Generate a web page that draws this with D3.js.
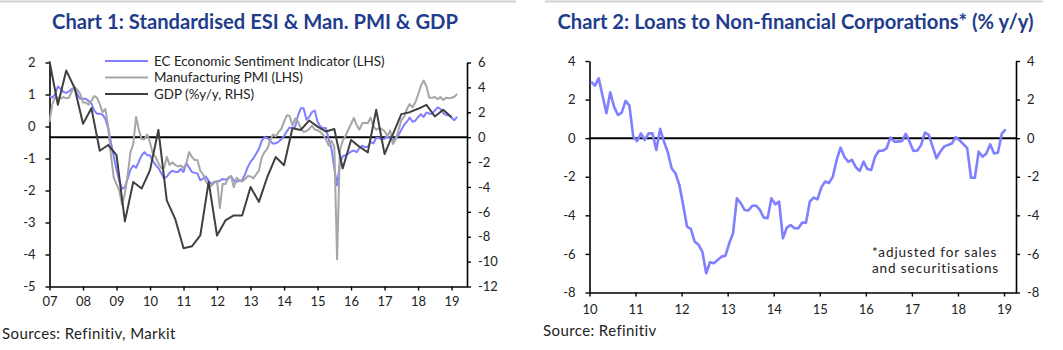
<!DOCTYPE html>
<html>
<head>
<meta charset="utf-8">
<title>Greece: ESI, PMI, GDP and loans</title>
<script src="https://cdn.jsdelivr.net/npm/d3@7"></script>
<style>
  body { margin: 0; background: #fff; }
  svg text { font-family: Lato, "Open Sans", sans-serif; fill: #222; }
  .title { font-weight: bold; fill: #1f3d8c; }
  .axis path, .axis line { stroke: #000; }
  .axis text { font-size: 13px; fill: #222; }
</style>
</head>
<body>
<script>
// ---- data ----
// chart 1: monthly from Jan 2007 (LHS, standardised)
var esi = [0.95,0.9,1.0,1.25,1.18,1.08,1.05,1.1,1.17,1.22,
  1.0,0.87,0.87,0.87,0.8,0.72,0.5,0.4,0.4,0.37,
  0.24,-0.05,-0.5,-0.93,-1.35,-1.7,-1.95,-1.9,-1.63,-1.35,
  -1.22,-1.29,-1.1,-0.9,-0.8,-0.9,-0.9,-1.07,-1.2,-1.3,
  -1.45,-1.62,-1.57,-1.45,-1.38,-1.42,-1.42,-1.33,-1.42,-1.15,
  -1.28,-1.42,-1.45,-1.47,-1.68,-1.63,-1.56,-1.7,-1.8,-1.73,
  -1.73,-1.69,-1.64,-1.66,-1.62,-1.56,-1.68,-1.73,-1.69,-1.68,
  -1.5,-1.27,-1.1,-1.0,-0.85,-0.7,
  -0.45,-0.34,-0.36,-0.45,-0.53,-0.53,-0.48,-0.4,-0.3,-0.15,
  -0.03,-0.05,-0.01,0.35,0.57,0.57,0.22,0.3,0.45,0.5,
  0.15,0.0,-0.05,-0.05,-0.4,-0.7,-1.3,-1.84,-1.15,-0.93,
  -0.9,-0.85,-0.78,-0.75,-0.8,-0.67,-0.6,-0.65,-0.63,-0.49,
  -0.53,-0.36,-0.36,-0.4,-0.38,-0.3,-0.38,-0.42,-0.36,-0.27,
  -0.1,0.05,0.15,0.28,0.15,0.18,0.3,0.38,0.3,0.44,
  0.4,0.4,0.5,0.6,0.55,0.42,0.36,0.35,0.27,0.2,
  0.3];
var pmi = [0.14,0.7,0.9,0.9,0.88,0.92,0.88,0.9,1.1,1.22,
  1.15,1.02,0.75,0.75,0.68,0.8,0.95,0.9,0.7,0.45,
  0.55,0.0,-0.9,-1.6,-1.8,-2.0,-2.45,-2.1,-1.5,-0.8,
  -0.55,0.3,-0.1,-0.4,-0.4,-0.25,-0.5,-0.85,-0.95,-1.15,
  -1.3,-1.3,-0.95,-1.2,-1.12,-1.2,-1.25,-1.22,-1.3,-1.15,
  -0.8,-0.95,-1.05,-1.05,-1.38,-1.5,-1.7,-1.85,-1.85,-1.76,
  -1.7,-2.55,-1.8,-1.8,-1.6,-1.55,-1.9,-1.6,-1.68,-1.72,
  -1.65,-1.55,-1.56,-1.62,-1.5,-1.37,
  -0.97,-0.8,-0.7,-0.45,-0.25,-0.31,-0.17,-0.08,0.15,0.35,
  0.33,0.03,0.25,0.15,-0.05,-0.17,-0.14,-0.08,0.03,-0.1,
  -0.12,-0.17,-0.26,-0.4,-0.6,-0.45,-0.64,-4.15,-0.74,-0.45,
  -0.3,-0.1,0.08,0.27,0.05,-0.1,0.1,0.12,0.1,0.28,
  0.0,-0.1,-0.05,-0.08,-0.15,-0.3,-0.12,-0.55,-0.4,-0.1,
  0.2,0.3,0.55,0.7,0.6,0.75,1.0,1.27,1.44,1.25,
  0.9,0.9,0.92,0.85,0.92,0.83,0.9,0.88,0.9,0.93,
  1.02];
// GDP %y/y, quarterly from 2007.0 (RHS)
var gdp = [6.1,2.6,5.35,3.95,1.07,2.33,-1.09,-0.63,-1.44,-6.77,
  -3.6,-4.13,-2.65,0.58,-5.08,-6.56,-8.93,-8.77,-7.9,-3.6,
  -7.9,-6.69,-6.29,-6.29,-4.0,-5.2,-3.2,-1.6,-2.25,0.72,
  0.58,1.34,0.85,0.45,0.66,-2.52,-0.23,-0.77,-1.22,2.2,
  -1.36,0.25,1.85,2.01,2.28,2.6,1.66,2.2,1.6];
// chart 2: loans to NFCs % y/y, monthly from Jan 2010
var loans = [2.93,2.72,3.1,2.2,1.29,2.38,1.63,1.2,1.32,1.93,
  1.69,0.08,-0.15,0.25,-0.09,0.25,0.25,-0.61,0.48,-0.18,
  -0.73,-1.56,-1.82,-2.42,-3.46,-4.58,-4.7,-5.36,-5.53,-5.88,
  -7.0,-6.43,-6.48,-6.31,-6.14,-6.1,-5.45,-4.93,-3.12,-3.37,
  -3.72,-3.75,-3.5,-3.5,-3.72,-4.12,-4.15,-3.12,-3.43,-3.29,
  -5.19,-4.64,-4.5,-4.67,-4.67,-4.38,-4.38,-3.29,-3.08,-3.17,
  -2.55,-2.25,-2.33,-1.99,-1.13,-0.49,-0.96,-1.22,-1.13,-1.51,
  -1.7,-1.22,-1.6,-1.65,-0.96,-0.65,-0.65,-0.53,0.03,-0.18,
  -0.18,-0.15,0.22,-0.18,-0.66,-0.64,-0.35,0.29,0.17,-0.44,
  -1.04,-0.7,-0.44,-0.35,-0.28,0.05,-0.1,-0.31,-0.52,-2.05,
  -2.05,-0.7,-0.96,-0.79,-0.32,-0.79,-0.76,0.22,0.46];

var years1 = d3.range(2007, 2020);
var years2 = d3.range(2010, 2020);
var ticksL1 = d3.range(-5, 3), ticksR1 = d3.range(-12, 7, 2);
var ticks2 = d3.range(-8, 5, 2);
var legend1 = ["EC Economic Sentiment Indicator (LHS)", "Manufacturing PMI (LHS)", "GDP (%y/y, RHS)"];
var note2 = ["*adjusted for sales", "and securitisations"];
var colors = ["#7f7fff", "#a6a6a6", "#404040"];

var svg = d3.select("body").append("svg")
  .attr("width", 1063).attr("height", 350);

var yearFmt = function(d) { return String(d % 100).padStart(2, "0"); };
var numFmt = function(d) { return String(d); };   // plain hyphen minus like the original

// top rules
svg.append("line").attr("x1", 0).attr("x2", 516).attr("y1", 1.5).attr("y2", 1.5)
  .attr("stroke", "#d0d0d0").attr("stroke-width", 2);
svg.append("line").attr("x1", 545).attr("x2", 1043).attr("y1", 1.5).attr("y2", 1.5)
  .attr("stroke", "#d0d0d0").attr("stroke-width", 2);

// ---------------- chart 1 ----------------
var x1 = d3.scaleLinear().domain([2007, 2019.46]).range([49.5, 467]);
var yL = d3.scaleLinear().domain([-5, 2]).range([286.5, 62.5]);
var yR = d3.scaleLinear().domain([-12, 6]).range([286.5, 62.5]);

svg.append("text").attr("class", "title").attr("x", 255).attr("y", 29)
  .attr("text-anchor", "middle").style("font-size", "20.2px")
  .text("Chart 1: Standardised ESI & Man. PMI & GDP");

function styleAxis(g) {
  g.attr("class", "axis");
  g.select(".domain").attr("stroke-width", 1.6);
  g.selectAll(".tick line").attr("stroke-width", 1.4);
}

svg.append("g").attr("transform", "translate(49.5,0)")
  .call(d3.axisLeft(yL).tickValues(ticksL1).tickFormat(numFmt).tickSize(4).tickSizeOuter(0).tickPadding(10))
  .call(styleAxis);
svg.append("g").attr("transform", "translate(467,0)")
  .call(d3.axisRight(yR).tickValues(ticksR1).tickFormat(numFmt).tickSize(4).tickSizeOuter(0).tickPadding(7))
  .call(styleAxis);
svg.append("g").attr("transform", "translate(0,286.5)")
  .call(d3.axisBottom(x1).tickValues(years1).tickFormat(yearFmt).tickSize(4).tickSizeOuter(0).tickPadding(6))
  .call(styleAxis);

// zero line of RHS
svg.append("line").attr("x1", x1.range()[0]).attr("x2", x1.range()[1])
  .attr("y1", yR(0)).attr("y2", yR(0)).attr("stroke", "#000").attr("stroke-width", 2);

var monthly1 = function(d, i) { return x1(2007 + i / 12); };
var lineL = d3.line().x(monthly1).y(function(d) { return yL(d); });
var lineG = d3.line().x(function(d, i) { return x1(2007 + i / 4); }).y(function(d) { return yR(d); });

svg.append("path").datum(esi).attr("d", lineL)
  .attr("fill", "none").attr("stroke", colors[0]).attr("stroke-width", 2).attr("stroke-linejoin", "round");
svg.append("path").datum(pmi).attr("d", lineL)
  .attr("fill", "none").attr("stroke", colors[1]).attr("stroke-width", 2).attr("stroke-linejoin", "round");
svg.append("path").datum(gdp).attr("d", lineG)
  .attr("fill", "none").attr("stroke", colors[2]).attr("stroke-width", 2).attr("stroke-linejoin", "round");

// legend
var leg = svg.append("g");
legend1.forEach(function(name, i) {
  var y = 61 + i * 16.5;
  leg.append("line").attr("x1", 105).attr("x2", 148).attr("y1", y).attr("y2", y)
    .attr("stroke", colors[i]).attr("stroke-width", 2);
  leg.append("text").attr("x", 154).attr("y", y + 4.6).style("font-size", "13.4px").text(name);
});

svg.append("text").attr("x", 2).attr("y", 339).style("font-size", "15px")
  .style("letter-spacing", "0.4px").text("Sources: Refinitiv, Markit");

// ---------------- chart 2 ----------------
var x2 = d3.scaleLinear().domain([2010, 2019.26]).range([589.5, 1016]);
var y2 = d3.scaleLinear().domain([-8, 4]).range([292.5, 61]);

svg.append("text").attr("class", "title").attr("x", 795.5).attr("y", 29)
  .attr("text-anchor", "middle").style("font-size", "20.2px")
  .text("Chart 2: Loans to Non-financial Corporations* (% y/y)");

svg.append("g").attr("transform", "translate(589.5,0)")
  .call(d3.axisLeft(y2).tickValues(ticks2).tickFormat(numFmt).tickSize(4).tickSizeOuter(0).tickPadding(10))
  .call(styleAxis);
svg.append("g").attr("transform", "translate(1016,0)")
  .call(d3.axisRight(y2).tickValues(ticks2).tickFormat(numFmt).tickSize(4).tickSizeOuter(0).tickPadding(7))
  .call(styleAxis);
svg.append("g").attr("transform", "translate(0,292.5)")
  .call(d3.axisBottom(x2).tickValues(years2).tickFormat(yearFmt).tickSize(4).tickSizeOuter(0).tickPadding(8))
  .call(styleAxis);

svg.append("line").attr("x1", x2.range()[0]).attr("x2", x2.range()[1])
  .attr("y1", y2(0)).attr("y2", y2(0)).attr("stroke", "#000").attr("stroke-width", 2);

svg.append("path").datum(loans)
  .attr("d", d3.line().x(function(d, i) { return x2(2010 + (i + 0.4) / 12); }).y(function(d) { return y2(d); }))
  .attr("fill", "none").attr("stroke", colors[0]).attr("stroke-width", 2.6).attr("stroke-linejoin", "round");

note2.forEach(function(t, i) {
  svg.append("text").attr("x", 872).attr("y", 257 + i * 15.5)
    .style("font-size", "13.5px").style("letter-spacing", "0.9px").text(t);
});

svg.append("text").attr("x", 543).attr("y", 336).style("font-size", "15px")
  .style("letter-spacing", "0.4px").text("Source: Refinitiv");
</script>
</body>
</html>
